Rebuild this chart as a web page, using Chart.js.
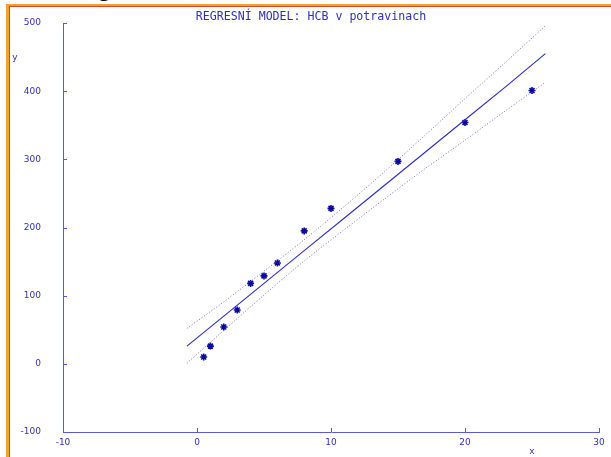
<!DOCTYPE html>
<html>
<head>
<meta charset="utf-8">
<script src="https://cdn.jsdelivr.net/npm/chart.js@4/dist/chart.umd.min.js"></script>
<style>
  html, body { margin: 0; padding: 0; background: #ffffff; }
  #wrap { position: relative; width: 611px; height: 457px; overflow: hidden; }
  #frame { position: absolute; left: 6px; top: 4px; right: 0; bottom: 0;
           border-top: 2px solid #f2a22a; border-left: 3px solid #f2a22a; }
  #frameIn { position: absolute; left: 0; top: 0; right: 0; bottom: 0;
             border-top: 1px solid #d04a2a; border-left: 1px solid #d04a2a; }
  #cut { position: absolute; left: 98px; top: -24px; font: 24px "Liberation Serif", serif;
         line-height: 24px; color: #000; }
  canvas { position: absolute; left: 0; top: 0; }
</style>
</head>
<body>
<div id="wrap">
  <div id="cut">g</div>
  <div id="frame"><div id="frameIn"></div></div>
  <canvas id="c" width="611" height="457"></canvas>
</div>
<script>
// Measured samples: HCB content (y) against x
const sampleX = [0.5, 1, 2, 3, 4, 5, 6, 8, 10, 15, 20, 25];
const sampleY = [10, 26, 54, 79, 118, 129, 148, 195, 228, 297, 354, 401];

// Fitted regression line and its confidence band, read at these x positions
const bandX = [-0.75, 2, 5, 8, 11, 14, 17, 20, 23, 26];
const fitY = [26, 70, 118, 166, 214, 262, 310, 358, 406, 455];
const upperY = [52, 91, 136, 182, 231, 282, 335, 389, 442, 496];
const lowerY = [1, 49, 101, 151, 197, 242, 286, 328, 371, 413];

// Axis ticks
const xTicks = [-10, 0, 10, 20, 30];
const yTicks = [-100, 0, 100, 200, 300, 400, 500];

const titleText = 'REGRESNÍ MODEL: HCB v potravinach';
const ink = '#2f2fbe';
const axisCol = '#5a5ad8';

const pts = (xs, ys) => xs.map((x, i) => ({ x: x, y: ys[i] }));

// Inward tick marks, the title and the axis letters
const decor = {
  id: 'decor',
  afterDraw(chart) {
    const ctx = chart.ctx;
    const xs = chart.scales.x, ys = chart.scales.y;
    const a = chart.chartArea;
    ctx.save();
    ctx.strokeStyle = axisCol;
    ctx.lineWidth = 1;
    ctx.beginPath();
    yTicks.forEach(v => {
      if (v === yTicks[0]) return;
      const py = Math.round(ys.getPixelForValue(v)) + 0.5;
      ctx.moveTo(a.left, py);
      ctx.lineTo(a.left + 4, py);
    });
    xTicks.forEach(v => {
      if (v === xTicks[0]) return;
      const px = Math.round(xs.getPixelForValue(v)) + 0.5;
      ctx.moveTo(px, a.bottom);
      ctx.lineTo(px, a.bottom - 4);
    });
    ctx.stroke();

    ctx.fillStyle = ink;
    ctx.textAlign = 'center';
    ctx.textBaseline = 'middle';
    ctx.font = '11.6px "DejaVu Sans Mono", monospace';
    ctx.fillText(titleText, 311, 17);
    ctx.font = '9px "DejaVu Sans", sans-serif';
    ctx.fillText('y', 15, 58);
    ctx.fillText('x', 532, 452);
    ctx.restore();
  }
};

new Chart(document.getElementById('c'), {
  type: 'scatter',
  data: {
    datasets: [
      {
        label: 'horní mez',
        data: pts(bandX, upperY),
        showLine: true, pointRadius: 0,
        borderColor: 'rgba(70,70,215,0.8)', borderWidth: 1, borderDash: [1, 2],
        tension: 0.3
      },
      {
        label: 'dolní mez',
        data: pts(bandX, lowerY),
        showLine: true, pointRadius: 0,
        borderColor: 'rgba(70,70,215,0.8)', borderWidth: 1, borderDash: [1, 2],
        tension: 0.3
      },
      {
        label: 'regrese',
        data: pts(bandX, fitY),
        showLine: true, pointRadius: 0,
        borderColor: '#2a2ac4', borderWidth: 1.1
      },
      {
        label: 'data',
        data: pts(sampleX, sampleY),
        showLine: false,
        pointStyle: 'star', pointRadius: 3.5,
        borderColor: '#0a0a9a', borderWidth: 1.6,
        backgroundColor: '#0a0a9a'
      }
    ]
  },
  options: {
    responsive: false,
    animation: false,
    events: [],
    layout: { padding: { left: 0, top: 23, right: 12, bottom: 0 } },
    plugins: { legend: { display: false }, title: { display: false }, tooltip: { enabled: false } },
    scales: {
      x: {
        type: 'linear', min: -10, max: 30,
        afterBuildTicks: s => { s.ticks = xTicks.map(v => ({ value: v })); },
        afterFit: s => { s.height = 25; },
        grid: { display: false, drawTicks: false },
        border: { display: true, color: axisCol, width: 1 },
        ticks: { color: ink, padding: 5, maxRotation: 0, font: { family: 'DejaVu Sans', size: 9 } }
      },
      y: {
        type: 'linear', min: -100, max: 500,
        afterBuildTicks: s => { s.ticks = yTicks.map(v => ({ value: v })); },
        afterFit: s => { s.width = 63; s.paddingTop = 5; s.paddingBottom = 5; },
        grid: { display: false, drawTicks: false },
        border: { display: true, color: axisCol, width: 1 },
        ticks: { color: ink, padding: 22, font: { family: 'DejaVu Sans', size: 9 } }
      }
    }
  },
  plugins: [decor]
});
</script>
</body>
</html>
